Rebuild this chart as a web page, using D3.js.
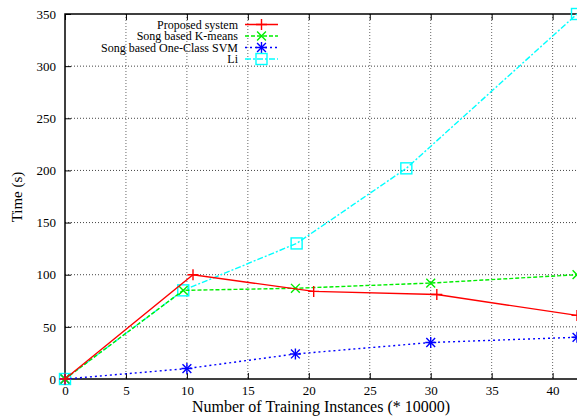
<!DOCTYPE html>
<html>
<head>
<meta charset="utf-8">
<script src="https://cdn.jsdelivr.net/npm/d3@7"></script>
<style>
  body { margin: 0; background: #fff; }
  svg { display: block; }
  text { font-family: "Liberation Serif", "Times New Roman", serif; fill: #000; }
</style>
</head>
<body>
<svg id="chart" width="577" height="417"></svg>
<script>
// Training set size (in units of 10000) and training time per method
const proposedX = [0, 10.5, 20.4, 30.5, 42];
const proposedY = [0, 100, 84, 81, 61];
const kmeansX = [0, 9.7, 18.9, 30, 42];
const kmeansY = [0, 85, 87, 92, 100];
const svmX = [0, 10, 18.9, 30, 42];
const svmY = [0, 10, 24, 35, 40];
const liX = [0, 9.7, 19, 28, 42];
const liY = [0, 85, 130, 202, 350];

const seriesNames = ["Proposed system", "Song based K-means", "Song based One-Class SVM", "Li"];
const xTicks = [0, 5, 10, 15, 20, 25, 30, 35, 40];
const yTicks = [0, 50, 100, 150, 200, 250, 300, 350];

const svg = d3.select("#chart");
const plotLeft = 65, plotRight = 577, plotTop = 14, plotBottom = 379;

const x = d3.scaleLinear().domain([0, 42]).range([plotLeft, plotRight]);
const y = d3.scaleLinear().domain([0, 350]).range([plotBottom, plotTop]);

// grid
const grid = svg.append("g");
grid.selectAll(".gx").data(xTicks.slice(1)).enter().append("line")
  .attr("x1", d => x(d)).attr("x2", d => x(d)).attr("y1", plotTop).attr("y2", plotBottom)
  .attr("stroke", "#666").attr("stroke-width", 1).attr("stroke-dasharray", "1,2");
grid.selectAll(".gy").data(yTicks.slice(1, -1)).enter().append("line")
  .attr("x1", plotLeft).attr("x2", plotRight).attr("y1", d => y(d)).attr("y2", d => y(d))
  .attr("stroke", "#444").attr("stroke-width", 1).attr("stroke-dasharray", "1,2");

// axes with inward ticks
const xAxis = d3.axisBottom(x).tickValues(xTicks).tickSize(-6).tickPadding(7).tickFormat(d3.format("d"));
const yAxis = d3.axisLeft(y).tickValues(yTicks).tickSize(-6).tickPadding(9).tickFormat(d3.format("d"));
const gx = svg.append("g").attr("transform", `translate(0,${plotBottom})`).call(xAxis);
const gy = svg.append("g").attr("transform", `translate(${plotLeft},0)`).call(yAxis);
const gxTop = svg.append("g").attr("transform", `translate(0,${plotTop})`)
  .call(d3.axisTop(x).tickValues(xTicks).tickSize(-6).tickFormat(""));
[gx, gy, gxTop].forEach(g => {
  g.select(".domain").remove();
  g.selectAll(".tick line").attr("stroke", "#000").attr("stroke-width", 1);
  g.selectAll("text").style("font-size", "13px").style("font-family", "Liberation Serif, serif");
});

// border
svg.append("rect").attr("x", plotLeft).attr("y", plotTop).attr("width", plotRight - plotLeft + 2).attr("height", plotBottom - plotTop)
  .attr("fill", "none").attr("stroke", "#000").attr("stroke-width", 1.5);

// axis titles
svg.append("text").attr("x", 321).attr("y", 412).attr("text-anchor", "middle")
  .style("font-size", "16px").text("Number of Training Instances (* 10000)");
svg.append("text").attr("transform", "translate(22,197) rotate(-90)").attr("text-anchor", "middle")
  .style("font-size", "15px").text("Time (s)");

// marker shapes
function marker(g, kind, cx, cy, color) {
  const s = 5.5;
  if (kind === "plus" || kind === "star") {
    g.append("path").attr("d", `M${cx - s},${cy}H${cx + s}M${cx},${cy - s}V${cy + s}`)
      .attr("stroke", color).attr("stroke-width", 1.4).attr("fill", "none");
  }
  if (kind === "cross" || kind === "star") {
    const t = s * 0.8;
    g.append("path").attr("d", `M${cx - t},${cy - t}L${cx + t},${cy + t}M${cx - t},${cy + t}L${cx + t},${cy - t}`)
      .attr("stroke", color).attr("stroke-width", 1.4).attr("fill", "none");
  }
  if (kind === "square") {
    g.append("rect").attr("x", cx - 5.5).attr("y", cy - 5.5).attr("width", 11).attr("height", 11)
      .attr("stroke", color).attr("stroke-width", 1.4).attr("fill", "none");
  }
}

const series = [
  { name: seriesNames[0], xs: proposedX, ys: proposedY, color: "#ff0000", dash: null, kind: "plus" },
  { name: seriesNames[1], xs: kmeansX, ys: kmeansY, color: "#00ee00", dash: "4,2", kind: "cross" },
  { name: seriesNames[2], xs: svmX, ys: svmY, color: "#0000ff", dash: "2,3", kind: "star" },
  { name: seriesNames[3], xs: liX, ys: liY, color: "#00ffff", dash: "6,2,2,2", kind: "square" }
];

const line = d3.line().x(d => x(d[0])).y(d => y(d[1]));
const plot = svg.append("g");
// draw later series first so the proposed line stays on top
series.slice().reverse().forEach(s => {
  const pts = s.xs.map((v, i) => [v, s.ys[i]]);
  plot.append("path").datum(pts).attr("d", line)
    .attr("fill", "none").attr("stroke", s.color).attr("stroke-width", 1.4)
    .attr("stroke-dasharray", s.dash);
  const mg = plot.append("g");
  pts.forEach(p => marker(mg, s.kind, x(p[0]), y(p[1]), s.color));
});

// legend
const legend = svg.append("g");
const rowY = [24.5, 36, 47.5, 59];
series.forEach((s, i) => {
  legend.append("text").attr("x", 238).attr("y", rowY[i] + 4).attr("text-anchor", "end")
    .style("font-size", "12px").text(s.name);
  legend.append("line").attr("x1", 245).attr("x2", 278).attr("y1", rowY[i]).attr("y2", rowY[i])
    .attr("stroke", s.color).attr("stroke-width", 1.4).attr("stroke-dasharray", s.dash);
  marker(legend, s.kind, 261.5, rowY[i], s.color);
});
</script>
</body>
</html>
